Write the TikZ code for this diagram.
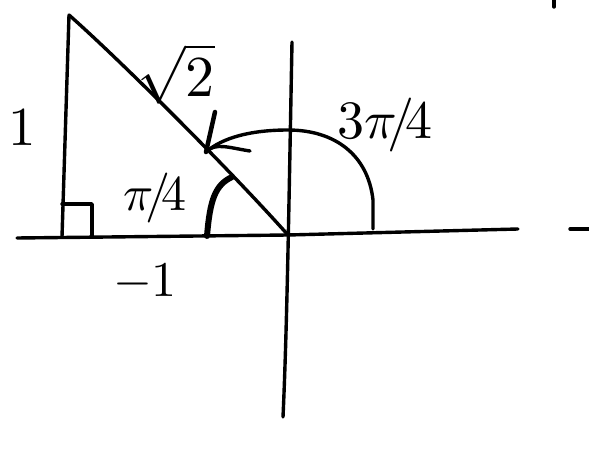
\documentclass[tikz,border=0pt]{standalone}
\usepackage{amsmath}
\begin{document}
\begin{tikzpicture}[x=1pt,y=-1pt,
  pen/.style={line width=3.4pt,line cap=round,line join=round},
  thickpen/.style={line width=6pt,line cap=round},
  lab/.style={inner sep=0pt}]
\useasboundingbox (0,0) rectangle (589,457);
% key points
\coordinate (A) at (69,15);
\coordinate (B) at (62,237);
\coordinate (O) at (288,235);
\coordinate (XL) at (17,238);
\coordinate (XR) at (518,229);
\coordinate (YT) at (292,42);
\coordinate (YB) at (283,417);
\coordinate (D1) at (570,229);
\coordinate (D2) at (592,229);
\coordinate (T1) at (554,-2);
\coordinate (T2) at (554,7);
\coordinate (S) at (373,229);
\coordinate (H) at (206,152);
% axes
\draw[pen] (XL) -- (O) -- (XR);
\draw[pen] (YT) .. controls (289,200) and (287,330) .. (YB);
\draw[pen] (D1) -- (D2);
\draw[pen] (T1) -- (T2);
% triangle
\draw[pen] (A) -- (B);
\draw[pen] (A) .. controls (120,60) and (230,170) .. (O);
\draw[pen] (62,204) -- (92,204) -- (92,237);
% pi/4 arc
\draw[thickpen] (207,236) .. controls (210,200) and (215,185) .. (232,177);
% 3pi/4 arc with arrow
\draw[pen] (S) -- (373,200) .. controls (368,155) and (335,130) .. (288,130) .. controls (250,130) and (222,138) .. (H);
\draw[pen,line width=4.5pt] (H) -- (215,112);
\draw[pen] (H) .. controls (215,142) and (230,148) .. (250,151);
% labels
\node[lab] (l1) at (22,128) {\scalebox{5.5}{$1$}};
\node[lab] (lm1) at (145,282) {\scalebox{5}{$-1$}};
\node[lab] (lr2) at (176,74) {\scalebox{5.8}{$\sqrt{2}$}};
\node[lab] (lpi4) at (155,198) {\scalebox{5}{$\pi\!/\!4$}};
\node[lab] (l3pi4) at (385,125) {\scalebox{5.4}{$3\pi\!/\!4$}};
\end{tikzpicture}
\end{document}
